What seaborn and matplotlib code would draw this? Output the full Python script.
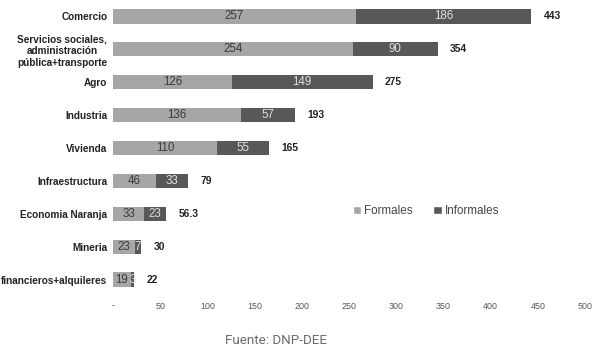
import matplotlib
matplotlib.use("Agg")
import matplotlib.pyplot as plt
from matplotlib.patches import Patch
import seaborn as sns
import pandas as pd

sectores = ["Comercio", "Servicios sociales,\nadministración\npública+transporte", "Agro",
            "Industria", "Vivienda", "Infraestructura", "Economia Naranja", "Mineria",
            "financieros+alquileres"]
formales = [257, 254, 126, 136, 110, 46, 33, 23, 19]
informales = [186, 90, 149, 57, 55, 33, 23, 7, 3]
totales = ["443", "354", "275", "193", "165", "79", "56.3", "30", "22"]
xticks = [0, 50, 100, 150, 200, 250, 300, 350, 400, 450, 500]
xlabels = ["-", "50", "100", "150", "200", "250", "300", "350", "400", "450", "500"]

light = "#a6a6a6"
dark = "#585858"

df = pd.DataFrame({"sector": sectores, "formales": formales, "informales": informales})
df["total"] = df["formales"] + df["informales"]

sns.set_style("white")
plt.rcParams["font.family"] = ["Liberation Sans", "DejaVu Sans"]

fig = plt.figure(figsize=(5.95, 3.5), dpi=100)
ax = fig.add_axes([113/595, 1-296/350, (585-113)/595, 296/350])

sns.barplot(data=df, x="total", y="sector", color=dark, width=0.43, saturation=1,
            linewidth=0, ax=ax)
sns.barplot(data=df, x="formales", y="sector", color=light, width=0.43, saturation=1,
            linewidth=0, ax=ax)

ax.bar_label(ax.containers[1], labels=[str(v) for v in formales], label_type="center",
             fontsize=8.3, color="#3a3a3a")
for i, (f, inf) in enumerate(zip(formales, informales)):
    ax.text(f + inf / 2, i, str(inf), ha="center", va="center", fontsize=8.3, color="#e0e0e0")
ax.bar_label(ax.containers[0], labels=totales, padding=9, fontsize=7.4,
             fontweight="bold", color="#222222")

ax.set_xlim(0, 500)
ax.set_ylim(8.5, -0.5)
ax.set_xticks(xticks)
ax.set_xticklabels(xlabels, fontsize=6.4, color="#555555")
ax.tick_params(axis="y", labelsize=7.2, length=0, pad=4)
ax.tick_params(axis="x", length=0, pad=4)
for lab in ax.get_yticklabels():
    lab.set_fontweight("bold")
    lab.set_color("#222222")
    lab.set_multialignment("center")
ax.set_xlabel("")
ax.set_ylabel("")
sns.despine(ax=ax, left=True, bottom=True)

handles = [Patch(facecolor=light, label="Formales"), Patch(facecolor=dark, label="Informales")]
ax.legend(handles=handles, loc="center", bbox_to_anchor=(0.663, 0.287), ncol=2, frameon=False,
          fontsize=8.4, handlelength=0.7, handleheight=0.7, handletextpad=0.25, columnspacing=1.8,
          labelcolor="#444444")

fig.text(276/595, 1-340/350, "Fuente: DNP-DEE", ha="center", va="center", fontsize=9.6,
         color="#6a6a6a", family=["Roboto", "DejaVu Sans"])

fig.savefig("out.png", dpi=100)
